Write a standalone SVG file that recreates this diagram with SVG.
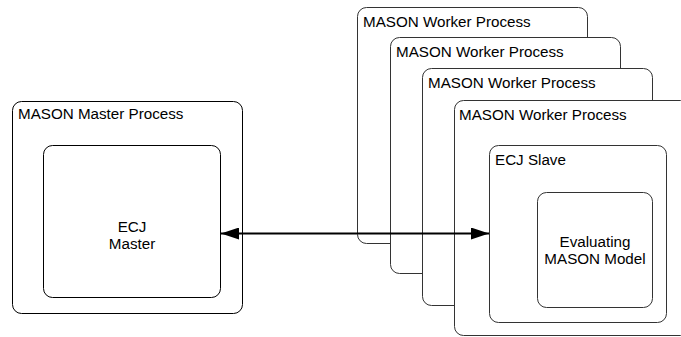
<svg xmlns="http://www.w3.org/2000/svg" width="681" height="337" viewBox="0 0 681 337">
<style>
.box{fill:#fff;stroke:#000;stroke-width:1}
.wbox{fill:#fff;stroke:#333;stroke-width:1}
text{font-family:"Liberation Sans",Arial,sans-serif;font-size:15.2px;fill:#000}
.c{text-anchor:middle}
</style>
<defs>
<marker id="ah" viewBox="0 0 18 12" refX="18" refY="6" markerWidth="18" markerHeight="12" markerUnits="userSpaceOnUse" orient="auto-start-reverse">
<path d="M0,0 L18,6 L0,12 Z" fill="#000"/>
</marker>
</defs>
<g id="master-process">
<rect class="box" x="12.5" y="101.5" width="230" height="212" rx="9"/>
<text x="18" y="119">MASON Master Process</text>
</g>
<g id="ecj-master">
<rect class="box" x="43.5" y="145.5" width="177" height="152" rx="9"/>
<text class="c" x="132" y="232">ECJ</text>
<text class="c" x="132" y="249">Master</text>
</g>
<g id="worker-1">
<rect class="wbox" x="357.5" y="7.5" width="230" height="236" rx="9"/>
<text x="363" y="27">MASON Worker Process</text>
</g>
<g id="worker-2">
<rect class="wbox" x="390.5" y="37.5" width="230" height="236" rx="9"/>
<text x="396" y="57">MASON Worker Process</text>
</g>
<g id="worker-3">
<rect class="wbox" x="422.5" y="68.5" width="230" height="237" rx="9"/>
<text x="428" y="88">MASON Worker Process</text>
</g>
<g id="worker-4">
<rect class="wbox" x="454.5" y="100.5" width="235" height="235" rx="9"/>
<text x="459" y="120">MASON Worker Process</text>
</g>
<g id="ecj-slave">
<rect class="wbox" x="489.5" y="145.5" width="177" height="177" rx="9"/>
<text x="495" y="165">ECJ Slave</text>
</g>
<g id="evaluating-model">
<rect class="wbox" x="537.5" y="192.5" width="115" height="115" rx="9"/>
<text class="c" x="595" y="247">Evaluating</text>
<text class="c" x="595" y="264">MASON Model</text>
</g>
<g id="connectors">
<line x1="221" y1="233.5" x2="489" y2="233.5" stroke="#000" stroke-width="2" marker-start="url(#ah)" marker-end="url(#ah)"/>
</g>
</svg>
